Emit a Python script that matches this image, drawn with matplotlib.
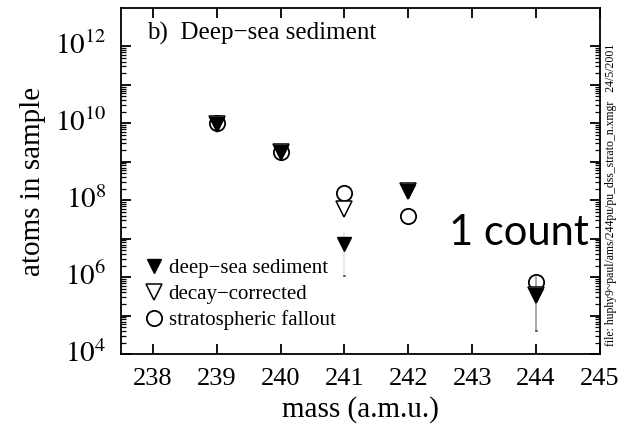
import numpy as np
import matplotlib
matplotlib.use('Agg')
import matplotlib.pyplot as plt
from matplotlib.ticker import FixedLocator, NullFormatter

plt.rcParams['font.family'] = ['Liberation Serif', 'DejaVu Serif']
plt.rcParams['mathtext.fontset'] = 'stix'

# atoms per isotope mass
mass = [239, 240, 241, 242, 244]
sediment = [9.6e9, 1.8e9, 7.5e6, 1.7e8, 3.5e5]
decay_corrected = [9.6e9, 1.8e9, 5.9e7, 1.7e8, 3.5e5]
fallout = [1.0e10, 1.8e9, 1.5e8, 4.0e7, 7.7e5]

# error range on the sediment points
err_mass = [241, 244]
err_low = [1.05e6, 4.0e4]
err_high = [1.4e7, 1.0e6]
err_color = ['#e6e6e6', '#9a9a9a']

fig = plt.figure(figsize=(6.23, 4.34), dpi=100)
ax = fig.add_axes([0.194, 0.184, 0.769, 0.798])

for m, lo, hi, c in zip(err_mass, err_low, err_high, err_color):
    ax.plot([m, m], [lo, hi], color=c, lw=1.2, zorder=1)
    ax.plot([m - 0.008, m + 0.008], [lo, lo], color='#555555', lw=1.2, zorder=1)

ax.plot(mass, fallout, 'o', ms=11, mfc='none', mec='black', mew=1.3,
        label='stratospheric fallout', zorder=2)
ax.plot(mass, decay_corrected, 'v', ms=11, mfc='white', mec='black', mew=1.1,
        label='decay\u2212corrected', zorder=3)
ax.plot(mass, sediment, 'v', ms=10.5, mfc='black', mec='black',
        label='deep\u2212sea sediment', zorder=4)

ax.set_yscale('log')
ax.set_xlim(237.5, 245)
ax.set_ylim(1e4, 1e13)
ax.set_xticks(range(238, 246))
ax.yaxis.set_major_locator(FixedLocator([10.0 ** k for k in range(4, 13)]))
ax.yaxis.set_major_formatter(NullFormatter())
minor = [b * 10.0 ** k for k in range(4, 12) for b in range(2, 10)]
ax.yaxis.set_minor_locator(FixedLocator(minor))
ax.yaxis.set_minor_formatter(NullFormatter())
for k in range(4, 13, 2):
    ax.text(-0.03, 10.0 ** k, r'$10^{%d}$' % k, transform=ax.get_yaxis_transform(),
            ha='right', va='center', fontsize=21)

ax.tick_params(which='both', direction='in', top=True, right=True, width=1.3)
ax.tick_params(which='major', length=7, labelsize=19, pad=10)
ax.tick_params(which='minor', length=3.5, width=0.9)
for s in ax.spines.values():
    s.set_linewidth(1.3)

ax.set_xlabel('mass (a.m.u.)', fontsize=21, labelpad=4)
ax.set_ylabel('atoms in sample', fontsize=21, labelpad=44)

ax.text(0.055, 0.925, 'b)  Deep\u2212sea sediment', transform=ax.transAxes,
        fontsize=18, va='center')
ax.text(0.685, 0.35, '1 count', transform=ax.transAxes, fontsize=30,
        family=['Lato', 'DejaVu Sans'], va='center')
fig.text(0.981, 0.55, 'file: huphy9~paul/ams/244pu/pu_dss_strato_n.xmgr   24/5/2001',
         rotation=90, fontsize=8.5, ha='center', va='center')

handles, labels = ax.get_legend_handles_labels()
ax.legend(handles[::-1], labels[::-1], loc='lower left', frameon=False,
          fontsize=15, handletextpad=-0.1, handlelength=1.6, labelspacing=0.3,
          borderaxespad=0.0, bbox_to_anchor=(0.017, 0.045))

fig.savefig('out.png', dpi=100)
